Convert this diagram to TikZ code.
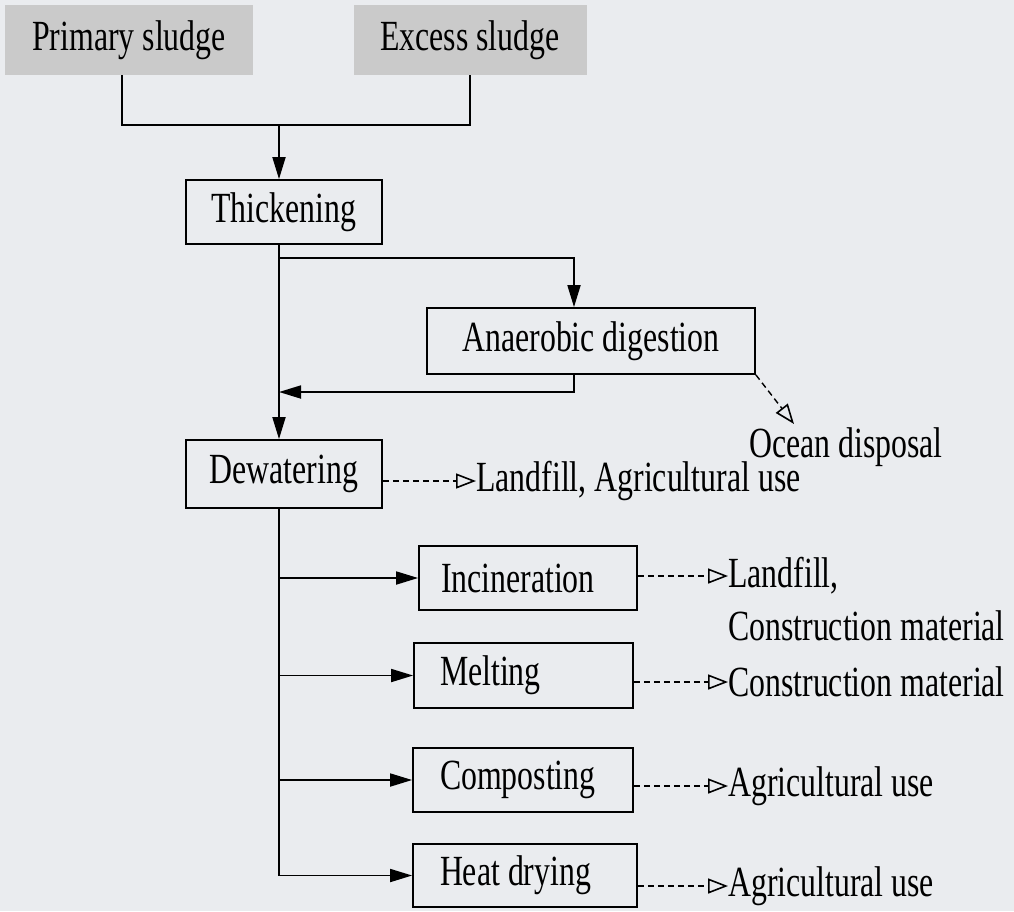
\documentclass[tikz,border=0pt]{standalone}
\usepackage{fontspec}
\setmainfont{Liberation Serif}[FakeStretch=0.74]
\usetikzlibrary{arrows.meta}
\definecolor{bgc}{RGB}{234,236,239}
\definecolor{srcfill}{RGB}{202,202,202}
\begin{document}
\begin{tikzpicture}[x=1pt,y=-1pt,
  every node/.style={font=\fontsize{43}{50}\selectfont, inner sep=0pt},
  srcbox/.style={fill=srcfill, minimum height=70pt},
  procbox/.style={draw, line width=1.8pt},
  lbl/.style={anchor=west},
  arr/.style={line width=1.8pt, -{Triangle[length=22pt,width=13pt]}},
  conn/.style={line width=1.8pt},
  darr/.style={line width=1.4pt, dash pattern=on 6pt off 4pt, -{Triangle[open,length=20pt,width=15pt,line width=1.6pt]}}]
\fill[bgc] (0,0) rectangle (1014,911);
\useasboundingbox (0,0) rectangle (1014,911);
% source boxes
\node[srcbox, minimum width=248pt] (prim) at (129,40) {Primary sludge};
\node[srcbox, minimum width=233pt] (exc) at (470,40) {Excess sludge};
% process boxes
\node[procbox, minimum width=196pt, minimum height=64pt] (thick) at (284,212) {Thickening};
\node[procbox, minimum width=328pt, minimum height=66pt] (anaer) at (591,341) {Anaerobic digestion};
\node[procbox, minimum width=196pt, minimum height=68pt] (dew) at (284,474) {Dewatering};
\node[procbox, minimum width=218pt, minimum height=64pt] (inc) at (528,578) {\makebox[218pt][l]{\hspace*{22pt}Incineration}};
\node[procbox, minimum width=219pt, minimum height=65pt] (melt) at (523.5,675.5) {\makebox[219pt][l]{\hspace*{26pt}Melting}};
\node[procbox, minimum width=220pt, minimum height=64pt] (comp) at (523,780) {\makebox[220pt][l]{\hspace*{27pt}Composting}};
\node[procbox, minimum width=224pt, minimum height=63pt] (heat) at (525,875.5) {\makebox[224pt][l]{\hspace*{27pt}Heat drying}};
% labels
\node (ocean) at (846,447) {Ocean disposal};
\node[lbl] (dewout) at (476,481) {Landfill, Agricultural use};
\node[lbl] (incout) at (728,576) {Landfill,};
\node[lbl] (incout2) at (728,626) {Construction material};
\node[lbl] (meltout) at (728,682) {Construction material};
\node[lbl] (compout) at (728,786) {Agricultural use};
\node[lbl] (heatout) at (728,886) {Agricultural use};
% junctions
\coordinate (j1) at (279,125);
\coordinate (j2) at (279,258);
\coordinate (j3) at (279,392);
\coordinate (oceantip) at (794,424);
% connectors
\draw[conn] ([xshift=-7pt]prim.south) |- (j1);
\draw[conn] (exc.south) |- (j1);
\draw[arr] (j1) -- (j1 |- thick.north);
\draw[arr] (j1 |- thick.south) -- (j1 |- dew.north);
\draw[arr] (j2) -| ([xshift=-17pt]anaer.north);
\draw[arr] ([xshift=-17pt]anaer.south) |- (j3);
\draw[darr] (anaer.south east) -- (oceantip);
\draw[darr] (dew.east |- dewout.west) -- (dewout.west);
\draw[conn] (j1 |- dew.south) -- (j1 |- heat.west);
\draw[arr] (j1 |- inc.west) -- (inc.west);
\draw[arr] (j1 |- melt.west) -- (melt.west);
\draw[arr] (j1 |- comp.west) -- (comp.west);
\draw[arr] (j1 |- heat.west) -- (heat.west);
\draw[darr] (inc.east |- incout.west) -- (incout.west);
\draw[darr] (melt.east |- meltout.west) -- (meltout.west);
\draw[darr] (comp.east |- compout.west) -- (compout.west);
\draw[darr] (heat.east |- heatout.west) -- (heatout.west);
\end{tikzpicture}
\end{document}
